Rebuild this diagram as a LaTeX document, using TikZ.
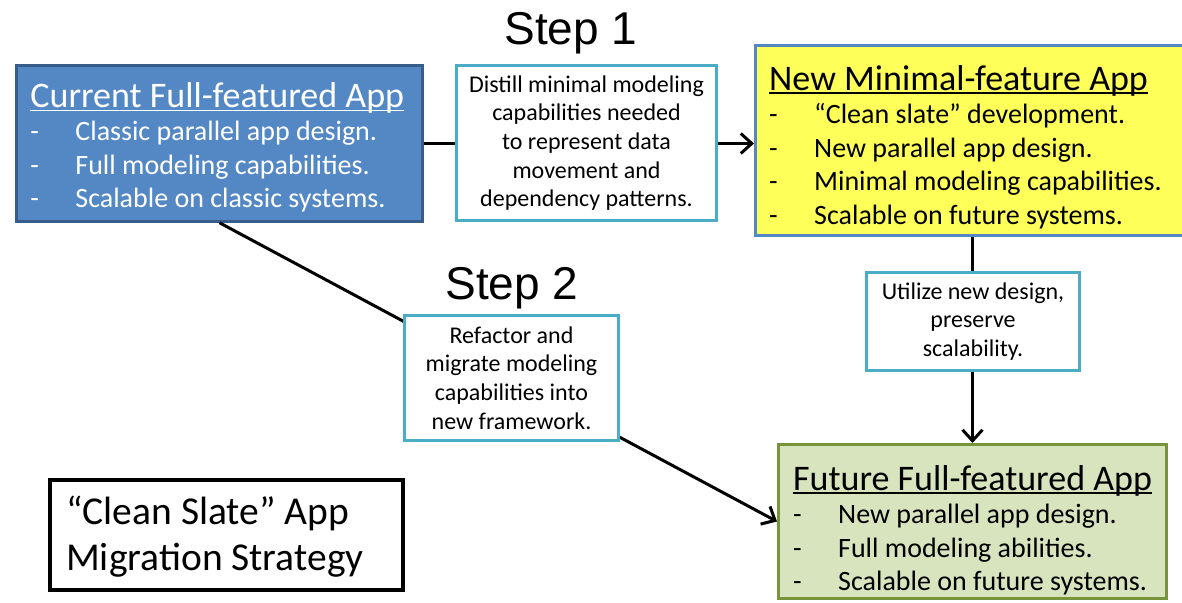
\documentclass[tikz,border=0pt]{standalone}
\usepackage{fontspec}
\setmainfont{Carlito}
\newfontfamily\stepfont{Liberation Sans}
\usetikzlibrary{arrows.meta}

\definecolor{appblue}{RGB}{84,136,197}
\definecolor{appblueline}{RGB}{56,93,138}
\definecolor{appyellow}{RGB}{255,255,90}
\definecolor{appgreen}{RGB}{215,228,189}
\definecolor{appgreenline}{RGB}{119,147,60}
\definecolor{stepline}{RGB}{75,172,198}

% underlined box title and one dashed list line
\newcommand{\apptitle}[1]{{\fontsize{36}{33.5}\selectfont\setbox0=\hbox{#1}\rlap{\rule[-4pt]{\wd0}{1.6pt}}\box0}}
\newcommand{\appitem}[1]{\makebox[45pt][l]{-}#1}

\tikzset{
  appbox/.style={draw, line width=3pt, inner sep=0pt},
  applist/.style={anchor=base west, inner sep=0pt, font=\fontsize{28}{33.5}\selectfont},
  stepbox/.style={draw=stepline, line width=3pt, fill=white, inner sep=0pt,
    align=center, font=\fontsize{24}{28.6}\selectfont},
  steplabel/.style={anchor=base, inner sep=0pt, font=\stepfont\fontsize{46}{50}\selectfont},
  conn/.style={line width=3pt},
  arr/.style={conn, -{Straight Barb[length=11pt,width=20pt]}}
}

\begin{document}
\begin{tikzpicture}[x=1pt,y=-1pt]
  \useasboundingbox (0,0) rectangle (1182,602);

  % the four app boxes
  \node[appbox, draw=appblueline, fill=appblue, line width=2.5pt,
    minimum width=406, minimum height=156] (current) at (219.5,143.5) {};
  \node[appbox, draw=appblue, fill=appyellow,
    minimum width=429, minimum height=190] (minimal) at (970,140.5) {};
  \node[appbox, draw=appgreenline, fill=appgreen,
    minimum width=388, minimum height=154] (future) at (972.5,521.5) {};
  \node[appbox, draw=black, line width=3.5pt,
    minimum width=353, minimum height=110] (strategy) at (226.5,535) {};

  \node[applist, text=white] (currenttext) at ([shift={(15,43)}]current.north west)
    {\begin{tabular}[t]{@{}l@{}}
      \apptitle{Current Full-featured App}\\
      \appitem{Classic parallel app design.}\\
      \appitem{Full modeling capabilities.}\\
      \appitem{Scalable on classic systems.}
    \end{tabular}};
  \node[applist] (minimaltext) at ([shift={(15,46)}]minimal.north west)
    {\begin{tabular}[t]{@{}l@{}}
      \apptitle{New Minimal-feature App}\\
      \appitem{“Clean slate” development.}\\
      \appitem{New parallel app design.}\\
      \appitem{Minimal modeling capabilities.}\\
      \appitem{Scalable on future systems.}
    \end{tabular}};
  \node[applist] (futuretext) at ([shift={(16,47)}]future.north west)
    {\begin{tabular}[t]{@{}l@{}}
      \apptitle{Future Full-featured App}\\
      \appitem{New parallel app design.}\\
      \appitem{Full modeling abilities.}\\
      \appitem{Scalable on future systems.}
    \end{tabular}};
  \node[anchor=base west, inner sep=0pt, align=left, font=\fontsize{39.5}{45.5}\selectfont]
    (strategytext) at (66,570) {“Clean Slate” App\\Migration Strategy};

  % connectors
  \draw[arr] (current.east) -- (current.east -| minimal.west);
  \draw[arr] (future.north |- minimal.south) -- (future.north);
  \draw[arr] (current.south) -- (future.west);

  % step boxes on top of the lines
  \node[stepbox, minimum width=260, minimum height=155] (distill) at (586.5,143)
    {Distill minimal modeling\\capabilities needed\\to represent data\\movement and\\dependency patterns.};
  \node[stepbox, minimum width=214, minimum height=125] (refactor) at (511.5,378)
    {Refactor and\\migrate modeling\\capabilities into\\new framework.};
  \node[stepbox, minimum width=213, minimum height=98] (utilize) at (973,321.5)
    {Utilize new design,\\preserve\\scalability.};

  \node[steplabel] (step1) at (571,45) {Step 1};
  \node[steplabel] (step2) at (512,299) {Step 2};
\end{tikzpicture}
\end{document}
